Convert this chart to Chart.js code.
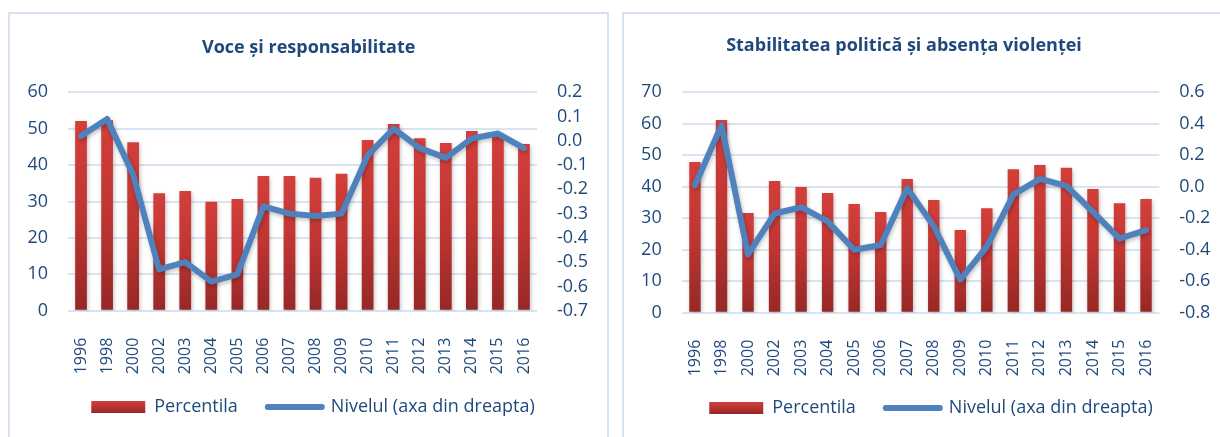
<!DOCTYPE html>
<html><head><meta charset="utf-8">
<script src="https://cdn.jsdelivr.net/npm/chart.js@4.4.1/dist/chart.umd.min.js"></script>
<style>
html,body{margin:0;padding:0;background:#fff;width:1220px;height:437px;overflow:hidden;}
.panel{position:absolute;box-sizing:border-box;border:2px solid #D6E1F0;background:#fff;}
canvas{position:absolute;top:0;}
</style></head><body>
<div class="panel" style="left:8px;top:12px;width:601px;height:480px"></div>
<div class="panel" style="left:622px;top:12px;width:700px;height:480px"></div>
<canvas id="c1" width="600" height="437" style="left:9px"></canvas>
<canvas id="c2" width="597" height="437" style="left:623px"></canvas>
<script>
const years = ['1996','1998','2000','2002','2003','2004','2005','2006','2007','2008','2009','2010','2011','2012','2013','2014','2015','2016'];

const voceTitle = 'Voce și responsabilitate';
const vocePercentile = [52.1, 52.3, 46.3, 32.3, 32.9, 29.9, 30.7, 37.0, 37.0, 36.5, 37.6, 46.9, 51.3, 47.4, 46.1, 49.4, 48.3, 45.8];
const voceLevel = [0.02, 0.09, -0.14, -0.53, -0.50, -0.58, -0.55, -0.27, -0.30, -0.31, -0.30, -0.06, 0.05, -0.03, -0.07, 0.01, 0.03, -0.03];

const stabTitle = 'Stabilitatea politică și absența violenței';
const stabPercentile = [47.9, 61.2, 31.7, 41.8, 39.9, 38.0, 34.5, 32.0, 42.5, 35.8, 26.3, 33.2, 45.6, 46.9, 46.0, 39.3, 34.8, 36.1];
const stabLevel = [0.01, 0.39, -0.43, -0.17, -0.13, -0.22, -0.40, -0.37, -0.01, -0.25, -0.59, -0.38, -0.05, 0.05, 0.005, -0.16, -0.33, -0.275];

const legendBar = 'Percentila';
const legendLine = 'Nivelul (axa din dreapta)';

const TEXT = '#1F497D';
const FONT = "'Open Sans', sans-serif";
Chart.defaults.font.family = FONT;
Chart.defaults.color = TEXT;

function barGradient(ctx) {
  const chart = ctx.chart;
  if (!chart.chartArea || ctx.dataIndex === undefined) return '#C0392F';
  const ys = chart.scales.y;
  const v = ctx.dataset.data[ctx.dataIndex];
  const top = ys.getPixelForValue(v), bot = ys.getPixelForValue(0);
  const g = chart.ctx.createLinearGradient(0, top, 0, bot);
  g.addColorStop(0, '#D33F3B');
  g.addColorStop(0.5, '#BF3532');
  g.addColorStop(1, '#952826');
  return g;
}

const shadowPlugin = {
  id: 'shadow',
  beforeDatasetDraw(chart) {
    const c = chart.ctx; c.save();
    c.shadowColor = 'rgba(0,0,0,0.25)'; c.shadowBlur = 4; c.shadowOffsetX = 1; c.shadowOffsetY = 2;
  },
  afterDatasetDraw(chart) { chart.ctx.restore(); }
};

const titlePlugin = {
  id: 'panelTitle',
  afterDraw(chart, args, opts) {
    const c = chart.ctx; c.save();
    c.font = "bold 18px " + FONT; c.fillStyle = TEXT;
    c.textAlign = 'center'; c.textBaseline = 'alphabetic';
    c.fillText(opts.text, opts.x, opts.y);
    c.restore();
  }
};

function makeChart(id, cfg) {
  return new Chart(document.getElementById(id), {
    data: {
      labels: years,
      datasets: [
        { type: 'bar', label: legendBar, data: cfg.bars, yAxisID: 'y', order: 2,
          backgroundColor: barGradient, borderWidth: 0, categoryPercentage: 1, barPercentage: cfg.barPct },
        { type: 'line', label: legendLine, data: cfg.line, yAxisID: 'y1', order: 1,
          borderColor: '#4F81BD', borderWidth: 6, pointRadius: 0, tension: 0,
          borderJoinStyle: 'round', borderCapStyle: 'round', fill: false }
      ]
    },
    options: {
      responsive: false, animation: false, devicePixelRatio: 1,
      layout: { padding: { top: 92.3, left: cfg.padL, right: 0, bottom: cfg.padB } },
      plugins: {
        tooltip: { enabled: false },
        panelTitle: { text: cfg.title, x: cfg.titleX, y: cfg.titleY },
        legend: {
          position: 'bottom',
          labels: {
            usePointStyle: true, pointStyleWidth: 54, boxHeight: 12, padding: 30,
            color: TEXT, font: { size: 18 },
            generateLabels(chart) {
              const g = chart.ctx.createLinearGradient(0, cfg.legY - 6, 0, cfg.legY + 6);
              g.addColorStop(0, '#D33F3B'); g.addColorStop(1, '#962826');
              return [
                { text: legendBar, fillStyle: g, strokeStyle: 'rgba(0,0,0,0)', lineWidth: 0,
                  pointStyle: 'rect', rotation: 0, datasetIndex: 0, fontColor: TEXT },
                { text: legendLine, fillStyle: '#4F81BD', strokeStyle: '#4F81BD', lineWidth: 6,
                  lineCap: 'round', pointStyle: 'line', rotation: 0, datasetIndex: 1, fontColor: TEXT }
              ];
            }
          }
        }
      },
      scales: {
        x: {
          grid: { display: false, drawTicks: false }, border: { display: false },
          ticks: { autoSkip: false, minRotation: 90, maxRotation: 90, padding: 27, color: TEXT, font: { size: 16 } },
          afterFit(s) { s.height = cfg.xH; s._computeLabelArea = () => undefined; }
        },
        y: {
          position: 'left', min: 0, max: cfg.yMax,
          ticks: { stepSize: 10, autoSkip: false, padding: 20, color: TEXT, font: { size: 18 } },
          grid: { color: '#D9E4F2', lineWidth: 2, drawTicks: false }, border: { display: false },
          afterFit(s) { s.width = cfg.yW; }
        },
        y1: {
          position: 'right', min: cfg.rMin, max: cfg.rMax,
          ticks: { stepSize: cfg.rStep, autoSkip: false, padding: 20, color: TEXT, font: { size: 18 },
                   callback: v => (Math.abs(v) < 1e-9 ? 0 : v).toFixed(1) },
          grid: { display: false, drawTicks: false }, border: { display: false },
          afterFit(s) { s.width = cfg.y1W; s._computeLabelArea = () => undefined; }
        }
      }
    },
    plugins: [shadowPlugin, titlePlugin]
  });
}

makeChart('c1', {
  title: voceTitle, titleX: 299.7, titleY: 52.7,
  bars: vocePercentile, line: voceLevel, barPct: 0.45,
  yMax: 60, rMin: -0.7, rMax: 0.2, rStep: 0.1,
  padL: 8, padB: 11, xH: 57.3, yW: 51, y1W: 72, legY: 407
});
makeChart('c2', {
  title: stabTitle, titleX: 281, titleY: 50.9,
  bars: stabPercentile, line: stabLevel, barPct: 0.43,
  yMax: 70, rMin: -0.8, rMax: 0.6, rStep: 0.2,
  padL: 19, padB: 10, xH: 56.3, yW: 39.7, y1W: 60.7, legY: 408
});
</script>
</body></html>
